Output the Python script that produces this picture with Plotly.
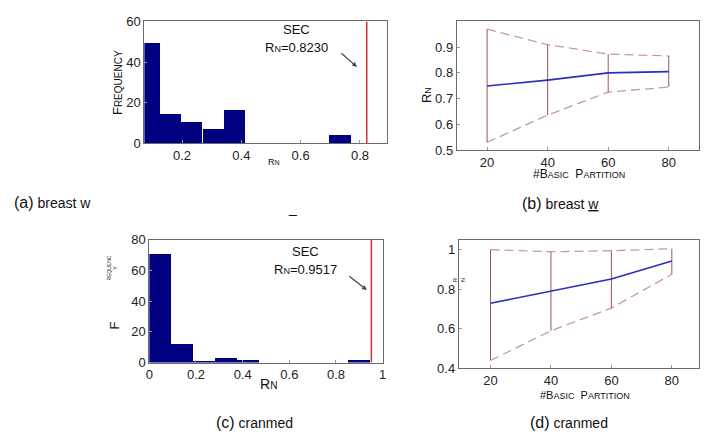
import plotly.graph_objects as go

W, H = 705, 443

# ---------------- data ----------------
# (a) breast w histogram of R_N
a_bin_centers = [0.092, 0.163, 0.234, 0.306, 0.377, 0.449, 0.520, 0.591, 0.663, 0.734]
a_counts = [49, 14, 10, 7, 16, 0, 0, 0, 0, 4]
a_bin_width = 0.0713
a_sec_value = 0.8230

# (c) cranmed histogram of R_N
c_bin_centers = [0.047, 0.142, 0.236, 0.331, 0.425, 0.520, 0.614, 0.709, 0.803, 0.898]
c_counts = [71, 12, 1, 3, 2, 0, 0, 0, 0, 2]
c_bin_width = 0.0945
c_sec_value = 0.9517

# (b) breast w : R_N vs #basic partition
partitions = [20, 40, 60, 80]
b_mean = [0.749, 0.772, 0.800, 0.805]
b_upper = [0.970, 0.910, 0.873, 0.866]
b_lower = [0.530, 0.636, 0.725, 0.745]

# (d) cranmed
d_mean = [0.729, 0.790, 0.852, 0.943]
d_upper = [1.000, 0.990, 0.995, 1.005]
d_lower = [0.440, 0.590, 0.705, 0.876]

a_xticks = [0.2, 0.4, 0.6, 0.8]
a_yticks = [0, 20, 40, 60]
c_xticks = [0, 0.2, 0.4, 0.6, 0.8, 1]
c_yticks = [0, 20, 40, 60, 80]
b_yticks = [0.5, 0.6, 0.7, 0.8, 0.9]
d_yticks = [0.4, 0.6, 0.8, 1]

FONT = "Liberation Sans, Arial, sans-serif"
BAR = "#000080"
RED = "#d83030"
BLUE = "#2c2cc0"
DASH = "#c89a9a"
ERR = "#9a5555"


def px(x):
    return x / W


def py(y):
    return 1 - y / H


fig = go.Figure()

# ---- (a) histogram
fig.add_trace(go.Bar(x=a_bin_centers, y=a_counts, width=a_bin_width,
                     marker=dict(color=BAR, line=dict(width=0)),
                     xaxis="x", yaxis="y", showlegend=False))
fig.add_trace(go.Scatter(x=[a_sec_value, a_sec_value], y=[0, 60], mode="lines",
                         line=dict(color=RED, width=1.5), xaxis="x", yaxis="y",
                         showlegend=False))

# ---- (c) histogram
fig.add_trace(go.Bar(x=c_bin_centers, y=c_counts, width=c_bin_width,
                     marker=dict(color=BAR, line=dict(width=0)),
                     xaxis="x3", yaxis="y3", showlegend=False))
fig.add_trace(go.Scatter(x=[c_sec_value, c_sec_value], y=[0, 80], mode="lines",
                         line=dict(color=RED, width=1.5), xaxis="x3", yaxis="y3",
                         showlegend=False))


def add_range_panel(mean, upper, lower, xa, ya):
    fig.add_trace(go.Scatter(x=partitions, y=upper, mode="lines",
                             line=dict(color=DASH, width=1.3, dash="9px,5px"),
                             xaxis=xa, yaxis=ya, showlegend=False))
    fig.add_trace(go.Scatter(x=partitions, y=lower, mode="lines",
                             line=dict(color=DASH, width=1.3, dash="9px,5px"),
                             xaxis=xa, yaxis=ya, showlegend=False))
    fig.add_trace(go.Scatter(
        x=partitions, y=mean, mode="lines",
        line=dict(color=BLUE, width=1.6),
        error_y=dict(type="data", symmetric=False,
                     array=[u - m for u, m in zip(upper, mean)],
                     arrayminus=[m - l for m, l in zip(mean, lower)],
                     color=ERR, thickness=1, width=0),
        xaxis=xa, yaxis=ya, showlegend=False))


add_range_panel(b_mean, b_upper, b_lower, "x2", "y2")
add_range_panel(d_mean, d_upper, d_lower, "x4", "y4")

axis_common = dict(showline=True, mirror=True, linecolor="#6a6a6a", linewidth=1,
                   ticks="inside", ticklen=3, tickcolor="#999999",
                   showgrid=False, zeroline=False,
                   tickfont=dict(family=FONT, size=13, color="#222222"))

fig.update_layout(
    width=W, height=H,
    margin=dict(l=0, r=0, t=0, b=0),
    paper_bgcolor="white", plot_bgcolor="white",
    font=dict(family=FONT, color="#111111"),
    bargap=0,
    xaxis=dict(domain=[px(142), px(387)], range=[0.073, 0.89], tickvals=a_xticks,
               anchor="y", **axis_common),
    yaxis=dict(domain=[py(141), py(15)], range=[0, 60], tickvals=a_yticks,
               anchor="x", ticklabelstandoff=0, **axis_common),
    xaxis2=dict(domain=[px(458), px(703)], range=[10, 90], tickvals=partitions,
                anchor="y2", **axis_common),
    yaxis2=dict(domain=[py(148), py(15)], range=[0.5, 1.0], tickvals=b_yticks,
                anchor="x2", **axis_common),
    xaxis3=dict(domain=[px(147), px(383)], range=[0, 1], tickvals=c_xticks,
                anchor="y3", **axis_common),
    yaxis3=dict(domain=[py(368), py(241)], range=[0, 80], tickvals=c_yticks,
                anchor="x3", ticklabelstandoff=0, **axis_common),
    xaxis4=dict(domain=[px(460), px(703)], range=[9.5, 89], tickvals=partitions,
                anchor="y4", **axis_common),
    yaxis4=dict(domain=[py(374), py(241)], range=[0.4, 1.05], tickvals=d_yticks,
                anchor="x4", **axis_common),
)


def note(x, y, text, size=13, angle=0, xanchor="center", color="#111111"):
    fig.add_annotation(x=px(x), y=py(y), xref="paper", yref="paper", text=text,
                       showarrow=False, xanchor=xanchor, yanchor="middle",
                       textangle=angle, font=dict(family=FONT, size=size, color=color))


def arrow(x0, y0, x1, y1):
    fig.add_annotation(x=px(x1), y=py(y1), xref="paper", yref="paper", text="",
                       showarrow=True, ax=x0 - x1, ay=y0 - y1, axref="pixel",
                       ayref="pixel", arrowhead=2, arrowsize=0.8, arrowwidth=1.2,
                       arrowcolor="#444444")


def sc(big, small, bs, ss):
    return f"{big}<span style='font-size:{ss}px'>{small}</span>"


# panel (a) texts
note(296, 23, "SEC", 13)
note(296, 42, sc("R", "N", 13, 9) + "=0.8230", 13)
arrow(340, 47, 357, 62)
note(273, 160, sc("R", "N", 9, 7), 9)
note(115, 78, sc("F", "REQUENCY", 13, 10), 13, angle=-90)

# panel (b) texts
note(428, 91, sc("R", "N", 13, 9), 13, angle=-90)
note(582, 173, sc("#B", "ASIC", 12, 9) + "&nbsp;&nbsp;" + sc("P", "ARTITION", 12, 9), 12)

# panel (c) texts
note(305, 253, "SEC", 13)
note(305, 272, sc("R", "N", 13, 9) + "=0.9517", 13)
arrow(348, 278, 367, 293)
note(268, 390, sc("R", "N", 14, 10), 14)
note(112, 330, "F", 13, angle=-90)
note(110, 270, "REQUENC<br>Y", 5, angle=-90)

# panel (d) texts
note(461, 282, "R<br>N", 6, angle=-90)
note(588, 402, sc("#B", "ASIC", 11, 9) + "&nbsp;&nbsp;" + sc("P", "ARTITION", 11, 9), 11)

# captions
note(8, 202, "<span style='font-size:16px'>(a)</span> breast w", 14, xanchor="left")
note(292, 208, "_", 14)
note(522, 203, "<span style='font-size:16px'>(b)</span> breast "
     "<span style='text-decoration:underline'>w</span>", 14, xanchor="left")
note(212, 430, "<span style='font-size:16px'>(c)</span> cranmed", 14, xanchor="left")
note(530, 430, "<span style='font-size:16px'>(d)</span> cranmed", 14, xanchor="left")

fig.write_html("out.html",
               config={"displayModeBar": False},
               post_script="document.body.style.margin='0';"
                           "document.body.style.overflow='hidden';")
